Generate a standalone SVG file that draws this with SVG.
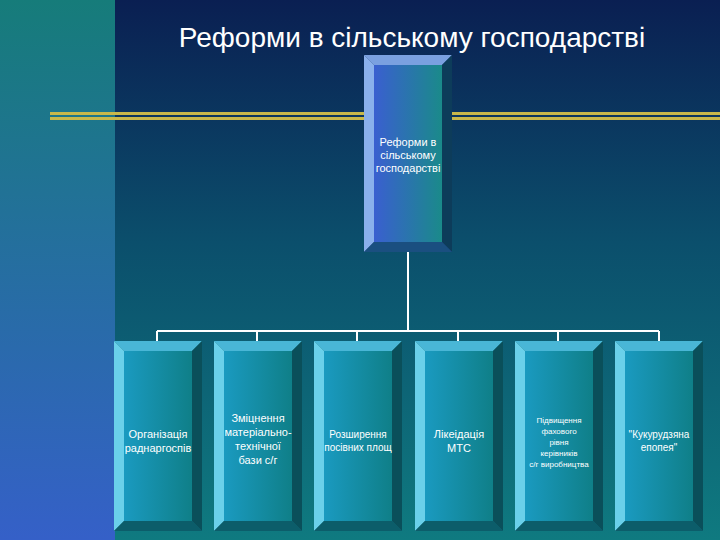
<svg xmlns="http://www.w3.org/2000/svg" width="720" height="540" viewBox="0 0 720 540">
<defs>
<linearGradient id="bg" x1="0" y1="0" x2="0" y2="1"><stop offset="0" stop-color="#0a1f52"/><stop offset="0.45" stop-color="#0b4f6c"/><stop offset="1" stop-color="#0f7a80"/></linearGradient>
<linearGradient id="side" x1="0" y1="0" x2="0" y2="1"><stop offset="0" stop-color="#167c7a"/><stop offset="1" stop-color="#3560c8"/></linearGradient>
<linearGradient id="topf" x1="0" y1="0" x2="1" y2="0"><stop offset="0" stop-color="#3a5fd0"/><stop offset="1" stop-color="#1a8a8a"/></linearGradient>
<linearGradient id="botf" x1="0" y1="0" x2="1" y2="0"><stop offset="0" stop-color="#1a9ac0"/><stop offset="1" stop-color="#0f7f88"/></linearGradient>
<style>
.t{font-family:"Liberation Sans",Arial,sans-serif;fill:#fff;text-anchor:middle}
.s{font-size:11px}
.c{stroke:#fff;stroke-width:2;fill:none}
</style>
<g id="boxb">
<rect x="0" y="0" width="88" height="190" fill="#0f6f7a"/>
<polygon points="0,0 88,0 78,10 10,10" fill="#49b6d6"/>
<polygon points="0,0 10,10 10,180 0,190" fill="#6ad0ea"/>
<polygon points="88,0 88,190 78,180 78,10" fill="#0a4f5a"/>
<polygon points="0,190 10,180 78,180 88,190" fill="#0c5d6a"/>
<rect x="10" y="10" width="68" height="170" fill="url(#botf)"/>
</g>
</defs>
<rect width="720" height="540" fill="url(#bg)"/>
<rect width="115" height="540" fill="url(#side)"/>
<rect x="50" y="112" width="670" height="3" fill="#c8b84a"/>
<rect x="50" y="117" width="670" height="3" fill="#c8b84a"/>
<text class="t" x="412" y="47" font-size="28" fill="#e8eef8">Реформи в сільському господарстві</text>
<g id="connectors" class="c">
<path d="M408 252V331M157 331H659M157 331V341M257 331V341M357 331V341M458 331V341M558 331V341M659 331V341"/>
</g>
<g id="top">
<rect x="364" y="55" width="88" height="197" fill="#16407a"/>
<polygon points="364,55 452,55 442,65 374,65" fill="#7aa0e0"/>
<polygon points="364,55 374,65 374,242 364,252" fill="#8ab0ec"/>
<polygon points="452,55 452,252 442,242 442,65" fill="#0d3c5a"/>
<polygon points="364,252 374,242 442,242 452,252" fill="#1a4f80"/>
<rect x="374" y="65" width="68" height="177" fill="url(#topf)"/>
<text class="t s" x="408" y="146">Реформи в</text>
<text class="t s" x="408" y="159">сільському</text>
<text class="t s" x="408" y="172">господарстві</text>
</g>
<g id="n1"><use href="#boxb" x="114" y="341"/><text class="t s" x="158" y="438">Організація</text><text class="t s" x="158" y="452">раднаргоспів</text></g>
<g id="n2"><use href="#boxb" x="214" y="341"/><text class="t s" x="258" y="422">Зміцнення</text><text class="t s" x="258" y="436">матеріально-</text><text class="t s" x="258" y="450">технічної</text><text class="t s" x="258" y="464">бази с/г</text></g>
<g id="n3"><use href="#boxb" x="314" y="341"/><text class="t" font-size="10" x="358" y="438">Розширення</text><text class="t" font-size="10" x="358" y="451">посівних площ</text></g>
<g id="n4"><use href="#boxb" x="415" y="341"/><text class="t s" x="459" y="438">Лікеідація</text><text class="t s" x="459" y="452">МТС</text></g>
<g id="n5"><use href="#boxb" x="515" y="341"/><text class="t" font-size="8" x="559" y="423">Підвищення</text><text class="t" font-size="8" x="559" y="434">фахового</text><text class="t" font-size="8" x="559" y="445">рівня</text><text class="t" font-size="8" x="559" y="456">керівників</text><text class="t" font-size="8" x="559" y="467">с/г виробництва</text></g>
<g id="n6"><use href="#boxb" x="615" y="341"/><text class="t" font-size="10" x="659" y="438">"Кукурудзяна</text><text class="t" font-size="10" x="659" y="451">епопея"</text></g>
</svg>
